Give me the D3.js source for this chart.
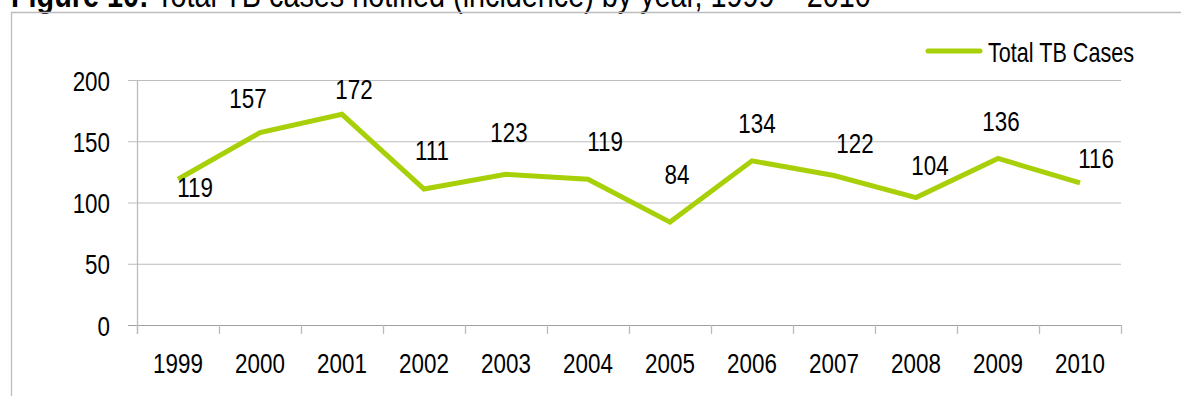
<!DOCTYPE html>
<html>
<head>
<meta charset="utf-8">
<script src="https://cdn.jsdelivr.net/npm/d3@7"></script>
<style>
  html, body { margin: 0; padding: 0; background: #fff; }
  svg { display: block; font-family: "Liberation Sans", Arial, sans-serif; }
</style>
</head>
<body>
<svg id="chart" width="1181" height="396"></svg>
<script>
// Total TB cases notified per year
const years = ["1999", "2000", "2001", "2002", "2003", "2004", "2005", "2006", "2007", "2008", "2009", "2010"];
const cases = [119, 157, 172, 111, 123, 119, 84, 134, 122, 104, 136, 116];
const yTicks = [0, 50, 100, 150, 200];
const seriesName = "Total TB Cases";

// Per-label nudge (dx, baseline dy) relative to each point
const labelNudge = [[17, 18], [-12, -25], [12, -15], [8, -29], [3, -32], [17, -28],
                    [7, -38], [5, -28], [21, -23], [14, -23], [3, -27], [16, -15]];

const GREEN = "#a8d008";
const SQUEEZE = 0.8;   // narrow face look
const FS = 28;

const svg = d3.select("#chart");

// Title (runs off the top edge)
const title = svg.append("text")
  .attr("transform", `translate(11,7) scale(${SQUEEZE},1)`)
  .attr("font-size", 36)
  .attr("fill", "#000");
title.append("tspan").attr("font-weight", "bold").text("Figure 10:");
title.append("tspan").text(" Total TB cases notified (incidence) by year, 1999 \u2013 2010");

// Frame
svg.append("path")
  .attr("d", "M11.5,396 V12.5 H1181")
  .attr("fill", "none")
  .attr("stroke", "#bdbdbd")
  .attr("stroke-width", 1.3);

const x = d3.scaleBand().domain(years).range([137, 1121]).padding(0);
const y = d3.scaleLinear().domain([0, 200]).range([325, 80]);

// Horizontal gridlines + y ticks
const yAxis = svg.append("g")
  .attr("transform", "translate(137,0)")
  .call(d3.axisLeft(y).tickValues(yTicks).tickSize(9).tickSizeOuter(0).tickPadding(18));
yAxis.select(".domain").remove();
yAxis.selectAll(".tick line")
  .attr("stroke", d => d === 0 ? "#a0a0a0" : "#bcbcbc")
  .attr("x2", -9)
  .clone(true)
  .attr("x1", 0)
  .attr("x2", 1121 - 137);
yAxis.selectAll(".tick text")
  .attr("font-size", FS)
  .attr("font-family", "Liberation Sans, Arial, sans-serif")
  .attr("fill", "#000")
  .attr("x", -27 / SQUEEZE)
  .attr("dy", "0.36em")
  .attr("transform", `scale(${SQUEEZE},1)`);

// Vertical axis line
svg.append("line")
  .attr("x1", 137.5).attr("x2", 137.5)
  .attr("y1", y(200)).attr("y2", 334)
  .attr("stroke", "#bcbcbc").attr("stroke-width", 1.3);

// X tick marks at category boundaries
const bounds = years.map(d => x(d)).concat([x.range()[1]]);
svg.append("g").selectAll("line")
  .data(bounds)
  .join("line")
  .attr("x1", d => d + 0.5).attr("x2", d => d + 0.5)
  .attr("y1", y(0)).attr("y2", 334)
  .attr("stroke", "#bcbcbc").attr("stroke-width", 1.3);

// Category labels
const xAxis = svg.append("g")
  .attr("transform", `translate(0,${y(0)})`)
  .call(d3.axisBottom(x).tickSize(0).tickPadding(28));
xAxis.select(".domain").remove();
xAxis.selectAll(".tick text")
  .attr("font-size", FS)
  .attr("font-family", "Liberation Sans, Arial, sans-serif")
  .attr("fill", "#000")
  .attr("dy", "0.71em")
  .attr("y", 28)
  .attr("transform", `scale(${SQUEEZE},1)`);

// Series line
const line = d3.line()
  .x((d, i) => x(years[i]) + x.bandwidth() / 2)
  .y(d => y(d));
svg.append("path")
  .datum(cases)
  .attr("d", line)
  .attr("fill", "none")
  .attr("stroke", GREEN)
  .attr("stroke-width", 5)
  .attr("stroke-linejoin", "miter");

// Value labels
svg.append("g").selectAll("text")
  .data(cases)
  .join("text")
  .attr("transform", (d, i) => {
    const px = x(years[i]) + x.bandwidth() / 2 + labelNudge[i][0];
    const py = y(d) + labelNudge[i][1];
    return `translate(${px},${py}) scale(${SQUEEZE},1)`;
  })
  .attr("text-anchor", "middle")
  .attr("font-size", FS)
  .attr("fill", "#000")
  .text(d => d);

// Legend
const legend = svg.append("g");
legend.append("line")
  .attr("x1", 928).attr("x2", 980)
  .attr("y1", 51).attr("y2", 51)
  .attr("stroke", GREEN).attr("stroke-width", 5)
  .attr("stroke-linecap", "round");
legend.append("text")
  .attr("transform", `translate(988,62) scale(${SQUEEZE},1)`)
  .attr("font-size", 27)
  .attr("fill", "#000")
  .text(seriesName);
</script>
</body>
</html>
